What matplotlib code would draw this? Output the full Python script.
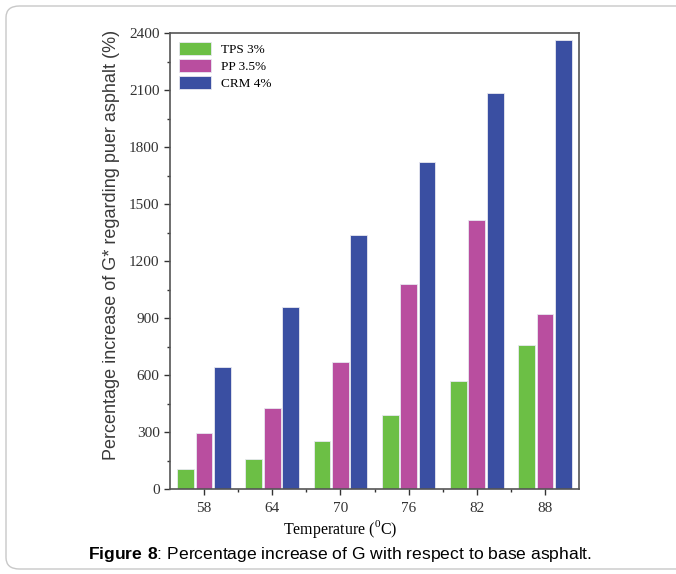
#!/usr/bin/env python3

import numpy as np
import matplotlib.pyplot as plt
from matplotlib.patches import FancyBboxPatch
from matplotlib.ticker import MultipleLocator

temps = ["58", "64", "70", "76", "82", "88"]
tps = [105, 158, 253, 389, 568, 758]
pp = [295, 426, 668, 1079, 1416, 921]
crm = [642, 958, 1337, 1721, 2084, 2363]

series = [("TPS 3%", tps, "#6cbf45"), ("PP 3.5%", pp, "#b94e9f"), ("CRM 4%", crm, "#3a4fa2")]

plt.rcParams["mathtext.fontset"] = "custom"
plt.rcParams["mathtext.rm"] = "Liberation Serif"
plt.rcParams["mathtext.bf"] = "Liberation Sans:bold"

fig = plt.figure(figsize=(6.76, 5.74), dpi=100)
fig.patch.set_facecolor("white")

# rounded frame around the whole figure
frame = FancyBboxPatch((6 / 676, 5 / 574), 700 / 676, 563 / 574,
                       boxstyle="round,pad=0,rounding_size=0.02",
                       transform=fig.transFigure, facecolor="none",
                       edgecolor="#c8c8c8", linewidth=1.0, clip_on=False)
fig.patches.append(frame)

ax = fig.add_axes([170 / 676, 1 - 489 / 574, 409 / 676, 456 / 574])

x = np.arange(len(temps))
width = 0.245
offsets = [-0.27, 0.0, 0.27]
for (label, vals, color), off in zip(series, offsets):
    ax.bar(x + off, vals, width, color=color, edgecolor="#e8e8f0",
           linewidth=0.6, label=label)

serif = "Liberation Serif"
ax.set_xlim(-0.5, len(temps) - 0.5)
ax.set_ylim(0, 2400)
ax.set_xticks(x)
ax.set_xticklabels(temps, family=serif, fontsize=11)
ax.set_xticks(x[:-1] + 0.5, minor=True)
ax.yaxis.set_major_locator(MultipleLocator(300))
ax.yaxis.set_minor_locator(MultipleLocator(150))
for lab in ax.get_yticklabels():
    lab.set_family(serif)
    lab.set_fontsize(11)
ax.tick_params(which="major", direction="out", length=4, width=1, colors="#333333")
ax.tick_params(which="minor", direction="out", length=2.5, width=1, colors="#333333")
ax.tick_params(axis="x", which="major", pad=5)
for s in ax.spines.values():
    s.set_color("#555555")
    s.set_linewidth(1.2)

ax.set_xlabel(r"Temperature ($^{\rm 0}$C)", family=serif, fontsize=11.5)
ax.xaxis.set_label_coords(0.416, -0.064)
ax.set_ylabel("Percentage increase of G* regarding puer asphalt (%)",
              family="Liberation Sans", fontsize=13, color="#3a3a3a")
ax.yaxis.set_label_coords(-0.122, 0.535)

ax.legend(loc="upper left", frameon=False, prop={"family": serif, "size": 9.5},
          handlelength=2.4, handleheight=1.1, labelspacing=0.25,
          borderaxespad=0.3, handletextpad=0.8)

fig.text(340 / 676, 1 - 554 / 574,
         r"$\bf{Figure\ 8}$: Percentage increase of G with respect to base asphalt.",
         ha="center", va="center", family="Liberation Sans", fontsize=12.6)

fig.savefig("out.png", dpi=100)
